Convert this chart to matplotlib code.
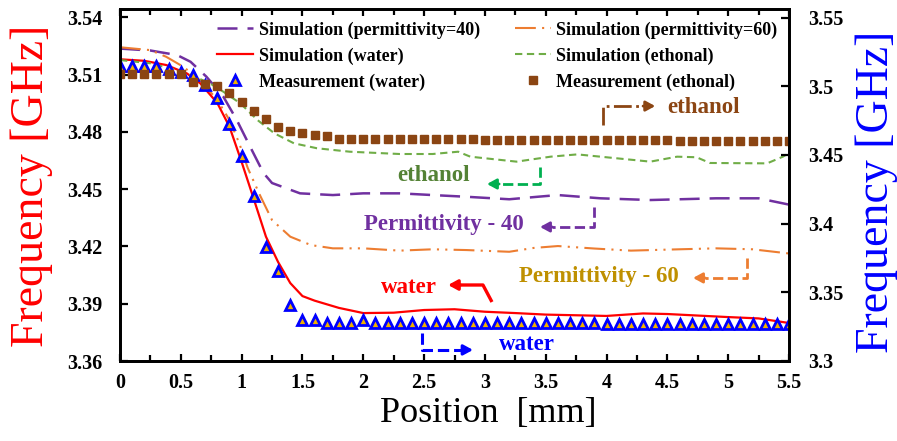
import numpy as np
import matplotlib
matplotlib.use("Agg")
import matplotlib.pyplot as plt
from matplotlib.ticker import MultipleLocator, FuncFormatter

# ---- data ----
# simulation curves, left axis
x_water_sim = [0, 0.2, 0.38, 0.55, 0.66, 0.8, 0.9, 1.0, 1.1, 1.2, 1.3, 1.4, 1.5, 1.6, 1.8,
               2.0, 2.25, 2.5, 2.75, 3.0, 3.25, 3.5, 4.0, 4.3, 4.5, 5.0, 5.25, 5.5]
f_water_sim = [3.5180, 3.5172, 3.5150, 3.5106, 3.5054, 3.4951, 3.4827, 3.4642, 3.4448, 3.4251,
               3.4118, 3.4008, 3.3940, 3.3916, 3.3878, 3.3851, 3.3853, 3.3867, 3.3871, 3.3858,
               3.3851, 3.3843, 3.3836, 3.3849, 3.3846, 3.3830, 3.3823, 3.3799]

x_eps60 = [0, 0.25, 0.38, 0.52, 0.66, 0.8, 0.9, 0.98, 1.05, 1.15, 1.25, 1.4, 1.57, 1.75, 2.0,
           2.3, 2.57, 2.85, 3.2, 3.4, 3.6, 3.9, 4.2, 4.6, 4.9, 5.2, 5.5]
f_eps60 = [3.5243, 3.5228, 3.5193, 3.5141, 3.5071, 3.4967, 3.4862, 3.4741, 3.4611, 3.4469,
           3.4338, 3.4251, 3.4207, 3.4190, 3.4190, 3.4178, 3.4185, 3.4181, 3.4172, 3.4192,
           3.4202, 3.4189, 3.4178, 3.4185, 3.4190, 3.4185, 3.4163]

x_eps40 = [0, 0.25, 0.47, 0.58, 0.71, 0.85, 0.96, 1.07, 1.18, 1.25, 1.48, 1.75, 2.0, 2.3,
           2.57, 2.85, 3.2, 3.45, 3.6, 3.95, 4.36, 4.9, 5.25, 5.5]
f_eps40 = [3.5236, 3.5226, 3.5202, 3.5167, 3.5089, 3.4984, 3.4862, 3.4722, 3.4584, 3.4532,
           3.4478, 3.4469, 3.4478, 3.4478, 3.4469, 3.4460, 3.4447, 3.4461, 3.4469, 3.4452,
           3.4443, 3.4452, 3.4452, 3.4419]

x_eth_sim = [0, 0.25, 0.52, 0.74, 0.85, 0.99, 1.13, 1.27, 1.43, 1.62, 1.89, 2.3, 2.57, 2.78,
             2.88, 3.26, 3.54, 3.76, 3.95, 4.36, 4.58, 4.74, 4.85, 5.32, 5.45, 5.5]
f_eth_sim = [3.5176, 3.5159, 3.5115, 3.5054, 3.5010, 3.4949, 3.4862, 3.4792, 3.4740, 3.4714,
             3.4696, 3.4684, 3.4684, 3.4696, 3.4670, 3.4644, 3.4670, 3.4682, 3.4670, 3.4644,
             3.4670, 3.4667, 3.4637, 3.4635, 3.4670, 3.4689]

# measurements every 0.1 mm, right axis
x_meas = np.round(np.arange(56) * 0.1, 1)
f_water_meas = [3.5149, 3.5149, 3.5149, 3.5149, 3.5125, 3.5106, 3.5080, 3.5009, 3.4912, 3.4725,
                3.4492, 3.4200, 3.3830, 3.3655, 3.3410, 3.3300, 3.3298, 3.3274, 3.3274, 3.3274,
                3.3300, 3.3274, 3.3274, 3.3274, 3.3274, 3.3274, 3.3274, 3.3274, 3.3274, 3.3274,
                3.3274, 3.3274, 3.3274, 3.3274, 3.3274, 3.3274, 3.3274, 3.3274, 3.3274, 3.3274,
                3.3272, 3.3272, 3.3272, 3.3272, 3.3272, 3.3272, 3.3272, 3.3272, 3.3272, 3.3270,
                3.3270, 3.3270, 3.3270, 3.3270, 3.3270, 3.3270]
f_eth_meas = [3.5089, 3.5089, 3.5089, 3.5089, 3.5089, 3.5089, 3.5033, 3.5016, 3.5001, 3.4953,
              3.4887, 3.4822, 3.4761, 3.4703, 3.4674, 3.4657, 3.4647, 3.4640, 3.4616, 3.4618,
              3.4618, 3.4618, 3.4618, 3.4618, 3.4618, 3.4618, 3.4618, 3.4618, 3.4618, 3.4618,
              3.4611, 3.4611, 3.4611, 3.4611, 3.4611, 3.4611, 3.4611, 3.4611, 3.4611, 3.4611,
              3.4611, 3.4611, 3.4611, 3.4611, 3.4611, 3.4611, 3.4604, 3.4604, 3.4604, 3.4604,
              3.4604, 3.4604, 3.4600, 3.4604, 3.4604, 3.4604]

plt.rcParams['font.family'] = ['Liberation Serif', 'DejaVu Serif']

RED = '#ff0000'
BLUE = '#0000ff'
PURPLE = '#7030a0'
ORANGE = '#ed7d31'
GREEN = '#70ad47'
BROWN = '#8b4513'

fig = plt.figure(figsize=(8.97, 4.41), dpi=100)
ax1 = fig.add_axes([120 / 897, 80 / 441, 669 / 897, 352.5 / 441])
ax2 = ax1.twinx()

l_eps40, = ax1.plot(x_eps40, f_eps40, color=PURPLE, lw=1.8, dashes=(8, 4),
                    label='Simulation (permittivity=40)')
l_eps60, = ax1.plot(x_eps60, f_eps60, color=ORANGE, lw=1.5, dashes=(10, 3, 1, 3, 1, 3),
                    label='Simulation (permittivity=60)')
l_water, = ax1.plot(x_water_sim, f_water_sim, color=RED, lw=1.6, label='Simulation (water)')
l_eth, = ax1.plot(x_eth_sim, f_eth_sim, color=GREEN, lw=1.5, dashes=(3.5, 2.2),
                  label='Simulation (ethonal)')

m_water, = ax2.plot(x_meas, f_water_meas, ls='none', marker='^', ms=6.5, mfc='#f0b000',
                    mec=BLUE, mew=2.0, label='Measurement (water)')
m_eth, = ax2.plot(x_meas, f_eth_meas, ls='none', marker='s', ms=6.3, color=BROWN,
                  label='Measurement (ethonal)')

ax1.set_xlim(0, 5.5)
ax1.set_ylim(3.36, 3.5446)
ax2.set_ylim(3.30, 3.5566)

fmt = FuncFormatter(lambda v, p: '%g' % round(v, 3))
ax1.xaxis.set_major_locator(MultipleLocator(0.5))
ax1.xaxis.set_minor_locator(MultipleLocator(0.25))
ax1.xaxis.set_major_formatter(fmt)
ax1.yaxis.set_major_locator(MultipleLocator(0.03))
ax1.yaxis.set_major_formatter(FuncFormatter(lambda v, p: '%.2f' % v))
ax2.yaxis.set_major_locator(MultipleLocator(0.05))
ax2.yaxis.set_major_formatter(fmt)

tick_font = dict(labelsize=14.5, width=1.6, color='black')
ax1.tick_params(axis='x', which='major', direction='in', top=True, length=5, pad=9, **tick_font)
ax1.tick_params(axis='x', which='minor', direction='in', top=True, length=4, width=1.6)
ax1.tick_params(axis='y', direction='in', length=6, pad=13, **tick_font)
ax2.tick_params(axis='y', direction='in', length=6, pad=14, **tick_font)
for lab in ax1.get_xticklabels() + ax1.get_yticklabels() + ax2.get_yticklabels():
    lab.set_fontweight('bold')

for ax in (ax1, ax2):
    for sp in ax.spines.values():
        sp.set_linewidth(2.0)

ax1.set_ylabel('Frequency [GHz]', color=RED, fontsize=33)
ax1.yaxis.set_label_coords(-0.100, 0.496)
ax2.set_ylabel('Frequency [GHz]', color=BLUE, fontsize=33)
ax2.yaxis.set_label_coords(1.099, 0.48)
ax1.set_xlabel('Position  [mm]', fontsize=26)
ax1.xaxis.set_label_coords(0.55, -0.102)

handles = [l_eps40, l_water, m_water, l_eps60, l_eth, m_eth]
ax2.legend(handles, [h.get_label() for h in handles], ncol=2, loc='upper left',
           bbox_to_anchor=(0.145, 0.963), frameon=False, borderpad=0, borderaxespad=0,
           handlelength=2.0, handletextpad=0.3, columnspacing=1.95, labelspacing=0.48,
           numpoints=1, prop={'weight': 'bold', 'size': 13})


# ---- pointer annotations (left-axis data coordinates) ----
def pointer(ax, pts, color, ls, lw, head):
    xs = [p[0] for p in pts]
    ys = [p[1] for p in pts]
    tip = pts[-1]
    dx = tip[0] - pts[-2][0]
    back = (tip[0] - np.sign(dx) * head, tip[1]) if dx != 0 else pts[-2]
    ax.plot(xs[:-1] + [back[0]], ys[:-1] + [back[1]], color=color, ls=ls, lw=lw,
            solid_capstyle='butt')
    ax.annotate('', xy=tip, xytext=back,
                arrowprops=dict(arrowstyle='-|>,head_length=0.55,head_width=0.3', color=color,
                                lw=lw, shrinkA=0, shrinkB=0))


pointer(ax1, [(3.97, 3.4836), (3.97, 3.4935), (4.40, 3.4935)], BROWN, '-.', 2.0, 0.1)
pointer(ax1, [(3.453, 3.4616), (3.453, 3.4527), (3.017, 3.4527)], '#00b050', '--', 2.0, 0.1)
pointer(ax1, [(3.897, 3.4406), (3.897, 3.4302), (3.453, 3.4302)], PURPLE, '--', 2.0, 0.1)
pointer(ax1, [(5.155, 3.4139), (5.155, 3.4035), (4.711, 3.4035)], ORANGE, '--', 2.0, 0.1)
pointer(ax1, [(3.058, 3.3909), (2.984, 3.3998), (2.697, 3.3998)], RED, '-', 2.4, 0.1)
pointer(ax1, [(2.483, 3.3747), (2.483, 3.3658), (2.902, 3.3658)], BLUE, '--', 2.2, 0.08)

note = dict(fontsize=16.5, fontweight='bold', va='center')
ax1.text(4.50, 3.4930, 'ethanol', color=BROWN, ha='left', **note)
ax1.text(2.58, 3.4574, 'ethanol', color='#548235', ha='center', **note)
ax1.text(2.66, 3.4317, 'Permittivity - 40', color=PURPLE, ha='center', **note)
ax1.text(3.94, 3.4040, 'Permittivity - 60', color='#bf9000', ha='center', **note)
ax1.text(2.376, 3.3987, 'water', color=RED, ha='center', **note)
ax1.text(3.346, 3.3684, 'water', color=BLUE, ha='center', **note)

fig.savefig('out.png', dpi=100)
